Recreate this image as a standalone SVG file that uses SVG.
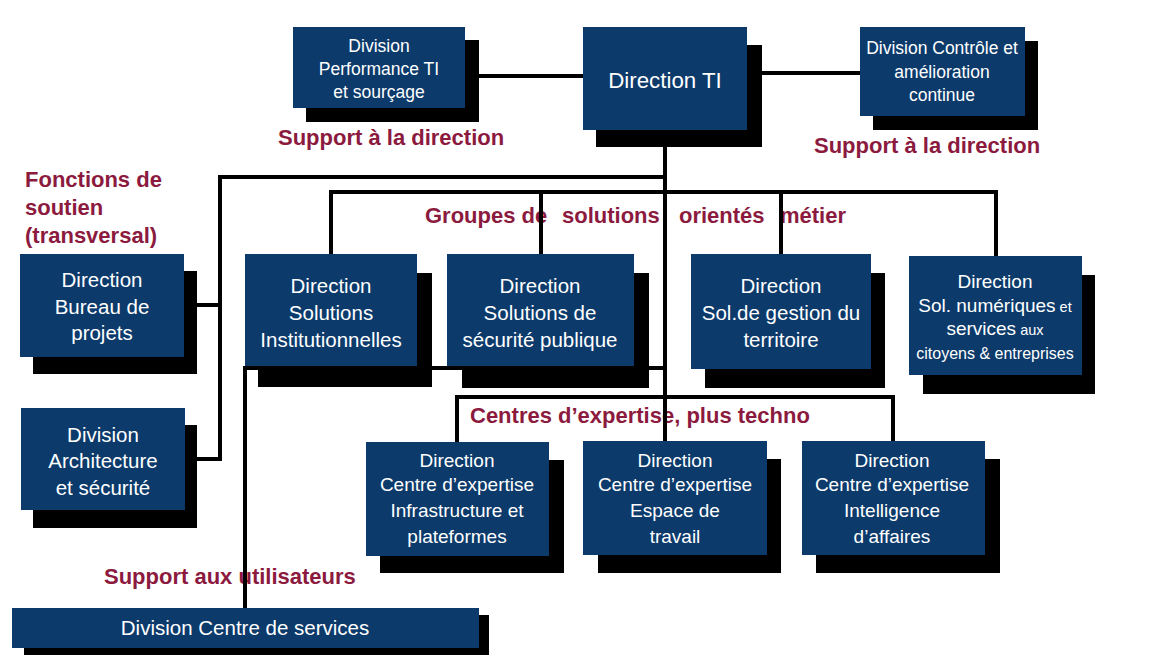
<svg xmlns="http://www.w3.org/2000/svg" width="1152" height="668" viewBox="0 0 1152 668">
<style>
.box{fill:#0b3a6b}
.sh{fill:#000}
.t{fill:#fff;font-family:"Liberation Sans",Arial,sans-serif;text-anchor:middle;font-size:20.5px}
.s19{font-size:19px}
.s17{font-size:17.5px}
.s16{font-size:16px}
.s14{font-size:14.5px}
.lbl{fill:#8b1a3e;font-family:"Liberation Sans",Arial,sans-serif;font-weight:bold;font-size:22px}
.ln{fill:none;stroke:#000;stroke-width:4;stroke-linecap:square}
</style>
<rect width="1152" height="668" fill="#fff"/>
<g id="labels">
<text class="lbl" x="278" y="145">Support à la direction</text>
<text class="lbl" x="814" y="153">Support à la direction</text>
<text class="lbl" x="25" y="187">Fonctions de</text>
<text class="lbl" x="25" y="215">soutien</text>
<text class="lbl" x="25" y="243">(transversal)</text>
<text class="lbl" y="223"><tspan x="425">Groupes de</tspan><tspan x="562">solutions</tspan><tspan x="679">orientés</tspan><tspan x="780">métier</tspan></text>
<text class="lbl" x="470" y="423">Centres d’expertise, plus techno</text>
<text class="lbl" x="104" y="584">Support aux utilisateurs</text>
</g>
<g id="connectors">
<path class="ln" d="M465 76H583"/>
<path class="ln" d="M747 73H860"/>
<path class="ln" d="M665 130V441"/>
<path class="ln" d="M665 177H220V459H185"/>
<path class="ln" d="M184 305H220"/>
<path class="ln" d="M331 254V192H996V256"/>
<path class="ln" d="M541 192V254"/>
<path class="ln" d="M781 192V254"/>
<path class="ln" d="M665 368H245V608"/>
<path class="ln" d="M457 442V397H893V441"/>
</g>
<g id="n-perf">
<rect class="sh" x="306" y="40" width="173" height="82"/>
<rect class="box" x="293" y="27" width="172" height="81"/>
<text class="t s17" x="379" y="52">Division</text>
<text class="t s17" x="379" y="75">Performance TI</text>
<text class="t s17" x="379" y="98">et sourçage</text>
</g>
<g id="n-dirti">
<rect class="sh" x="596" y="45" width="166" height="102"/>
<rect class="box" x="583" y="27" width="164" height="103"/>
<text class="t" style="font-size:22.3px" x="665" y="88">Direction TI</text>
</g>
<g id="n-controle">
<rect class="sh" x="873" y="41" width="165" height="89"/>
<rect class="box" x="860" y="27" width="165" height="89"/>
<text class="t s17" x="942" y="54">Division Contrôle et</text>
<text class="t s17" x="942" y="78">amélioration</text>
<text class="t s17" x="942" y="101">continue</text>
</g>
<g id="n-bureau">
<rect class="sh" x="33" y="271" width="164" height="103"/>
<rect class="box" x="20" y="254" width="164" height="103"/>
<text class="t" x="102" y="287">Direction</text>
<text class="t" x="102" y="314">Bureau de</text>
<text class="t" x="102" y="340">projets</text>
</g>
<g id="n-archi">
<rect class="sh" x="33" y="425" width="164" height="103"/>
<rect class="box" x="21" y="408" width="164" height="102"/>
<text class="t" x="103" y="442">Division</text>
<text class="t" x="103" y="468">Architecture</text>
<text class="t" x="103" y="495">et sécurité</text>
</g>
<g id="n-si">
<rect class="sh" x="258" y="273" width="174" height="114"/>
<rect class="box" x="245" y="254" width="172" height="112"/>
<text class="t" x="331" y="293">Direction</text>
<text class="t" x="331" y="320">Solutions</text>
<text class="t" x="331" y="347">Institutionnelles</text>
</g>
<g id="n-ssp">
<rect class="sh" x="462" y="273" width="187" height="115"/>
<rect class="box" x="447" y="254" width="187" height="112"/>
<text class="t" x="540" y="293">Direction</text>
<text class="t" x="540" y="320">Solutions de</text>
<text class="t" x="540" y="347">sécurité publique</text>
</g>
<g id="n-gestion">
<rect class="sh" x="705" y="273" width="180" height="115"/>
<rect class="box" x="691" y="254" width="180" height="115"/>
<text class="t" x="781" y="293">Direction</text>
<text class="t" x="781" y="320">Sol.de gestion du</text>
<text class="t" x="781" y="347">territoire</text>
</g>
<g id="n-numeriques">
<rect class="sh" x="923" y="275" width="172" height="119"/>
<rect class="box" x="909" y="256" width="173" height="119"/>
<text class="t s19" x="995" y="288">Direction</text>
<text class="t" x="995" y="312"><tspan class="s19">Sol. numériques</tspan><tspan class="s14"> et</tspan></text>
<text class="t" x="995" y="335"><tspan class="s19">services</tspan><tspan class="s14"> aux</tspan></text>
<text class="t s16" x="995" y="359">citoyens &amp; entreprises</text>
</g>
<g id="n-infra">
<rect class="sh" x="380" y="460" width="184" height="113"/>
<rect class="box" x="366" y="442" width="183" height="114"/>
<text class="t s19" x="457" y="467">Direction</text>
<text class="t s19" x="457" y="491">Centre d’expertise</text>
<text class="t s19" x="457" y="517">Infrastructure et</text>
<text class="t s19" x="457" y="543">plateformes</text>
</g>
<g id="n-espace">
<rect class="sh" x="598" y="459" width="183" height="114"/>
<rect class="box" x="583" y="441" width="184" height="114"/>
<text class="t s19" x="675" y="467">Direction</text>
<text class="t s19" x="675" y="491">Centre d’expertise</text>
<text class="t s19" x="675" y="517">Espace de</text>
<text class="t s19" x="675" y="543">travail</text>
</g>
<g id="n-intel">
<rect class="sh" x="816" y="459" width="184" height="114"/>
<rect class="box" x="802" y="441" width="183" height="114"/>
<text class="t s19" x="892" y="467">Direction</text>
<text class="t s19" x="892" y="491">Centre d’expertise</text>
<text class="t s19" x="892" y="517">Intelligence</text>
<text class="t s19" x="892" y="543">d’affaires</text>
</g>
<g id="n-services">
<rect class="sh" x="24" y="615" width="465" height="40"/>
<rect class="box" x="12" y="608" width="467" height="40"/>
<text class="t" x="245" y="635">Division Centre de services</text>
</g>
</svg>
